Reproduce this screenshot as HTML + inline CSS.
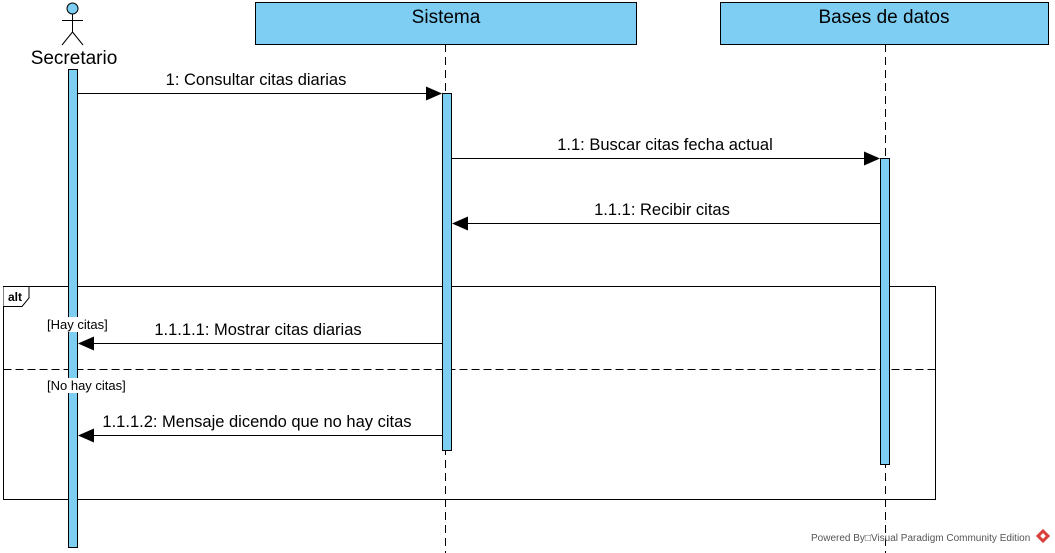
<!DOCTYPE html>
<html><head><meta charset="utf-8"><style>
html,body{margin:0;padding:0;background:#fff;}
svg{display:block;font-family:"Liberation Sans",Arial,sans-serif;}
</style></head><body>
<svg width="1055" height="553" viewBox="0 0 1055 553" xmlns="http://www.w3.org/2000/svg">
<rect width="1055" height="553" fill="#fff"/>
<line x1="445.5" y1="44" x2="445.5" y2="553" stroke="#000" stroke-dasharray="8,5"/>
<line x1="885.5" y1="44" x2="885.5" y2="553" stroke="#000" stroke-dasharray="8,5"/>
<circle cx="72.5" cy="8.5" r="5.5" fill="#7ecef4" stroke="#000"/>
<line x1="72.5" y1="14" x2="72.5" y2="32" stroke="#000"/>
<line x1="62" y1="20.5" x2="83" y2="20.5" stroke="#000"/>
<line x1="72.5" y1="32" x2="62" y2="45" stroke="#000"/>
<line x1="72.5" y1="32" x2="83" y2="45" stroke="#000"/>
<text x="74" y="64" font-size="19" text-anchor="middle">Secretario</text>
<rect x="255.5" y="2.5" width="381" height="42" fill="#7ecef4" stroke="#000"/>
<text x="446" y="23" font-size="19" text-anchor="middle">Sistema</text>
<rect x="720.5" y="2.5" width="328" height="42" fill="#7ecef4" stroke="#000"/>
<text x="884" y="23" font-size="19" text-anchor="middle">Bases de datos</text>
<rect x="3.5" y="286.5" width="932" height="213" fill="none" stroke="#000"/>
<path d="M3.5 286.5 H29 V298 L22 306.5 H3.5" fill="#fff" stroke="#000"/>
<text x="8" y="301" font-size="12" font-weight="bold">alt</text>
<line x1="3.5" y1="369.5" x2="935" y2="369.5" stroke="#000" stroke-dasharray="8,4"/>
<rect x="68.5" y="69.5" width="9" height="478" fill="#7ecef4" stroke="#000"/>
<rect x="442.5" y="93.5" width="9" height="357" fill="#7ecef4" stroke="#000"/>
<rect x="880.5" y="158.5" width="9" height="306" fill="#7ecef4" stroke="#000"/>
<rect x="46" y="317" width="66" height="15" fill="#fff"/>
<text x="47" y="329" font-size="13">[Hay citas]</text>
<rect x="46" y="378" width="86" height="15" fill="#fff"/>
<text x="47" y="390" font-size="13">[No hay citas]</text>
<line x1="78" y1="93.5" x2="428" y2="93.5" stroke="#000"/>
<polygon points="442,93.5 426,86.5 426,100.5" fill="#000"/>
<text x="256" y="85" font-size="16.5" text-anchor="middle">1: Consultar citas diarias</text>
<line x1="452" y1="158.5" x2="866" y2="158.5" stroke="#000"/>
<polygon points="880,158.5 864,151.5 864,165.5" fill="#000"/>
<text x="665" y="150" font-size="16.5" text-anchor="middle">1.1: Buscar citas fecha actual</text>
<line x1="880" y1="223.5" x2="466" y2="223.5" stroke="#000"/>
<polygon points="452,223.5 468,216.5 468,230.5" fill="#000"/>
<text x="662" y="215" font-size="16.5" text-anchor="middle">1.1.1: Recibir citas</text>
<line x1="442" y1="343.5" x2="92" y2="343.5" stroke="#000"/>
<polygon points="78,343.5 94,336.5 94,350.5" fill="#000"/>
<text x="258" y="335" font-size="16.5" text-anchor="middle">1.1.1.1: Mostrar citas diarias</text>
<line x1="442" y1="435.5" x2="92" y2="435.5" stroke="#000"/>
<polygon points="78,435.5 94,428.5 94,442.5" fill="#000"/>
<text x="257" y="427" font-size="16.5" text-anchor="middle">1.1.1.2: Mensaje dicendo que no hay citas</text>
<text x="811" y="541" font-size="10" fill="#555">Powered By□Visual Paradigm Community Edition</text>
<g transform="translate(1043,536) rotate(45)">
<rect x="-5" y="-5" width="10" height="10" fill="#d9403a"/>
<rect x="-2" y="-2" width="4" height="4" fill="#fff"/>
</g>
</svg>
</body></html>
